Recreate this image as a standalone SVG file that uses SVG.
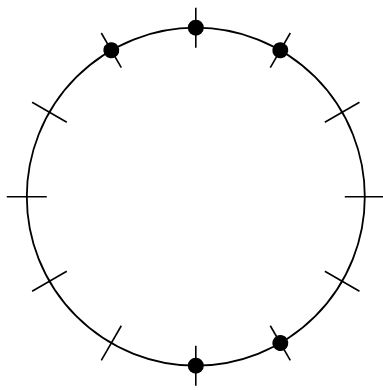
<svg xmlns="http://www.w3.org/2000/svg" width="383" height="390" viewBox="0 0 383 390">
<style>
.c{fill:none;stroke:#000;stroke-width:1.8}
.t{stroke:#000;stroke-width:1.6}
.d{fill:#000}
</style>
<rect width="383" height="390" fill="#fff"/>
<g id="circle"><circle class="c" cx="195.8" cy="196.7" r="169"/></g>
<g id="ticks" transform="translate(195.8,196.7)">
<line class="t" x1="149" y1="0" x2="189" y2="0" transform="rotate(0)"/>
<line class="t" x1="149" y1="0" x2="189" y2="0" transform="rotate(30)"/>
<line class="t" x1="149" y1="0" x2="189" y2="0" transform="rotate(60)"/>
<line class="t" x1="149" y1="0" x2="189" y2="0" transform="rotate(90)"/>
<line class="t" x1="149" y1="0" x2="189" y2="0" transform="rotate(120)"/>
<line class="t" x1="149" y1="0" x2="189" y2="0" transform="rotate(150)"/>
<line class="t" x1="149" y1="0" x2="189" y2="0" transform="rotate(180)"/>
<line class="t" x1="149" y1="0" x2="189" y2="0" transform="rotate(210)"/>
<line class="t" x1="149" y1="0" x2="189" y2="0" transform="rotate(240)"/>
<line class="t" x1="149" y1="0" x2="189" y2="0" transform="rotate(270)"/>
<line class="t" x1="149" y1="0" x2="189" y2="0" transform="rotate(300)"/>
<line class="t" x1="149" y1="0" x2="189" y2="0" transform="rotate(330)"/>
</g>
<g id="dots" transform="translate(195.8,196.7)">
<circle class="d" cx="169" cy="0" r="8" transform="rotate(270)"/>
<circle class="d" cx="169" cy="0" r="8" transform="rotate(300)"/>
<circle class="d" cx="169" cy="0" r="8" transform="rotate(240)"/>
<circle class="d" cx="169" cy="0" r="8" transform="rotate(90)"/>
<circle class="d" cx="169" cy="0" r="8" transform="rotate(60)"/>
</g>
</svg>
